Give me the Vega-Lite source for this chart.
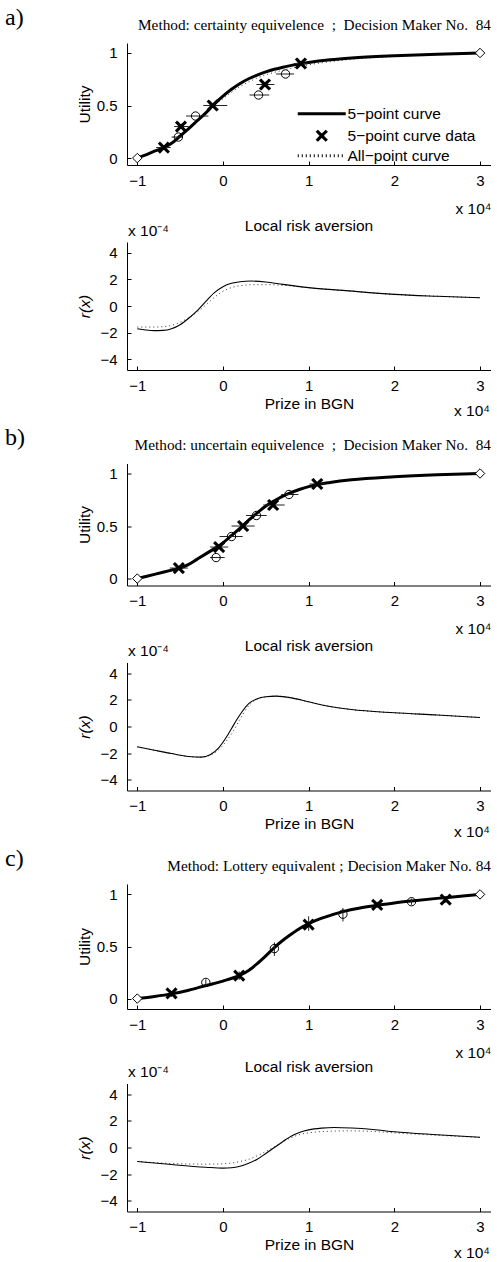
{
  "$schema": "https://vega.github.io/schema/vega-lite/v6.json",
  "padding": {"left": 5, "top": 5, "right": 0, "bottom": 0},
  "autosize": {"type": "pad"},
  "background": "white",
  "config": {
    "view": {"stroke": null},
    "font": "Liberation Sans",
    "axis": {"grid": false, "labelFont": "Liberation Sans", "labelFontSize": 15, "labelColor": "black", "titleFont": "Liberation Sans", "titleFontSize": 15.5, "titleFontWeight": "normal", "titleColor": "black", "domainColor": "black", "tickColor": "black", "tickSize": -4, "labelFlush": false, "labelOverlap": false},
    "axisX": {"labelPadding": 12},
    "axisY": {"labelPadding": 14},
    "title": {"color": "black", "fontWeight": "normal"},
    "legend": {"labelFont": "Liberation Sans", "labelFontSize": 15.5, "labelColor": "black"}
  },
  "datasets": {
    "uc": [
      {"p":"a","s":"5pt","x":-1,"u":0},{"p":"a","s":"5pt","x":-0.9,"u":0.03},{"p":"a","s":"5pt","x":-0.8,"u":0.065},{"p":"a","s":"5pt","x":-0.69,"u":0.1},{"p":"a","s":"5pt","x":-0.6,"u":0.14},{"p":"a","s":"5pt","x":-0.5,"u":0.21},{"p":"a","s":"5pt","x":-0.4,"u":0.28},{"p":"a","s":"5pt","x":-0.3,"u":0.355},{"p":"a","s":"5pt","x":-0.2,"u":0.43},{"p":"a","s":"5pt","x":-0.12,"u":0.5},{"p":"a","s":"5pt","x":0,"u":0.59},{"p":"a","s":"5pt","x":0.1,"u":0.655},{"p":"a","s":"5pt","x":0.2,"u":0.71},{"p":"a","s":"5pt","x":0.3,"u":0.755},{"p":"a","s":"5pt","x":0.4,"u":0.79},{"p":"a","s":"5pt","x":0.5,"u":0.82},{"p":"a","s":"5pt","x":0.6,"u":0.845},{"p":"a","s":"5pt","x":0.7,"u":0.865},{"p":"a","s":"5pt","x":0.8,"u":0.882},{"p":"a","s":"5pt","x":0.9,"u":0.897},{"p":"a","s":"5pt","x":1.0,"u":0.91},{"p":"a","s":"5pt","x":1.25,"u":0.935},{"p":"a","s":"5pt","x":1.5,"u":0.952},{"p":"a","s":"5pt","x":2.0,"u":0.973},{"p":"a","s":"5pt","x":2.5,"u":0.988},{"p":"a","s":"5pt","x":3.0,"u":1.0},
      {"p":"a","s":"all","x":-1,"u":0},{"p":"a","s":"all","x":-0.8,"u":0.068},{"p":"a","s":"all","x":-0.6,"u":0.145},{"p":"a","s":"all","x":-0.5,"u":0.21},{"p":"a","s":"all","x":-0.4,"u":0.28},{"p":"a","s":"all","x":-0.3,"u":0.355},{"p":"a","s":"all","x":-0.2,"u":0.43},{"p":"a","s":"all","x":-0.1,"u":0.5},{"p":"a","s":"all","x":0,"u":0.565},{"p":"a","s":"all","x":0.1,"u":0.625},{"p":"a","s":"all","x":0.2,"u":0.68},{"p":"a","s":"all","x":0.3,"u":0.725},{"p":"a","s":"all","x":0.4,"u":0.762},{"p":"a","s":"all","x":0.5,"u":0.792},{"p":"a","s":"all","x":0.6,"u":0.816},{"p":"a","s":"all","x":0.7,"u":0.836},{"p":"a","s":"all","x":0.8,"u":0.855},{"p":"a","s":"all","x":0.9,"u":0.872},{"p":"a","s":"all","x":1.0,"u":0.887},{"p":"a","s":"all","x":1.25,"u":0.917},{"p":"a","s":"all","x":1.5,"u":0.94},{"p":"a","s":"all","x":2.0,"u":0.967},{"p":"a","s":"all","x":2.5,"u":0.985},{"p":"a","s":"all","x":3.0,"u":1.0},
      {"p":"b","s":"5pt","x":-1,"u":0},{"p":"b","s":"5pt","x":-0.8,"u":0.04},{"p":"b","s":"5pt","x":-0.6,"u":0.08},{"p":"b","s":"5pt","x":-0.5,"u":0.1},{"p":"b","s":"5pt","x":-0.4,"u":0.135},{"p":"b","s":"5pt","x":-0.3,"u":0.185},{"p":"b","s":"5pt","x":-0.2,"u":0.235},{"p":"b","s":"5pt","x":-0.1,"u":0.285},{"p":"b","s":"5pt","x":0,"u":0.34},{"p":"b","s":"5pt","x":0.1,"u":0.41},{"p":"b","s":"5pt","x":0.2,"u":0.48},{"p":"b","s":"5pt","x":0.3,"u":0.555},{"p":"b","s":"5pt","x":0.4,"u":0.625},{"p":"b","s":"5pt","x":0.5,"u":0.69},{"p":"b","s":"5pt","x":0.6,"u":0.74},{"p":"b","s":"5pt","x":0.7,"u":0.785},{"p":"b","s":"5pt","x":0.8,"u":0.82},{"p":"b","s":"5pt","x":0.9,"u":0.85},{"p":"b","s":"5pt","x":1.0,"u":0.875},{"p":"b","s":"5pt","x":1.1,"u":0.895},{"p":"b","s":"5pt","x":1.25,"u":0.915},{"p":"b","s":"5pt","x":1.5,"u":0.94},{"p":"b","s":"5pt","x":2.0,"u":0.968},{"p":"b","s":"5pt","x":2.5,"u":0.987},{"p":"b","s":"5pt","x":3.0,"u":1.0},
      {"p":"b","s":"all","x":-1,"u":0},{"p":"b","s":"all","x":-0.8,"u":0.04},{"p":"b","s":"all","x":-0.6,"u":0.08},{"p":"b","s":"all","x":-0.5,"u":0.1},{"p":"b","s":"all","x":-0.4,"u":0.135},{"p":"b","s":"all","x":-0.3,"u":0.183},{"p":"b","s":"all","x":-0.2,"u":0.232},{"p":"b","s":"all","x":-0.1,"u":0.282},{"p":"b","s":"all","x":0,"u":0.335},{"p":"b","s":"all","x":0.1,"u":0.4},{"p":"b","s":"all","x":0.2,"u":0.47},{"p":"b","s":"all","x":0.3,"u":0.545},{"p":"b","s":"all","x":0.4,"u":0.615},{"p":"b","s":"all","x":0.5,"u":0.68},{"p":"b","s":"all","x":0.6,"u":0.735},{"p":"b","s":"all","x":0.7,"u":0.78},{"p":"b","s":"all","x":0.8,"u":0.818},{"p":"b","s":"all","x":0.9,"u":0.848},{"p":"b","s":"all","x":1.0,"u":0.873},{"p":"b","s":"all","x":1.1,"u":0.893},{"p":"b","s":"all","x":1.25,"u":0.914},{"p":"b","s":"all","x":1.5,"u":0.94},{"p":"b","s":"all","x":2.0,"u":0.968},{"p":"b","s":"all","x":2.5,"u":0.987},{"p":"b","s":"all","x":3.0,"u":1.0},
      {"p":"c","s":"5pt","x":-1,"u":0},{"p":"c","s":"5pt","x":-0.8,"u":0.02},{"p":"c","s":"5pt","x":-0.6,"u":0.045},{"p":"c","s":"5pt","x":-0.4,"u":0.08},{"p":"c","s":"5pt","x":-0.2,"u":0.125},{"p":"c","s":"5pt","x":0,"u":0.168},{"p":"c","s":"5pt","x":0.2,"u":0.225},{"p":"c","s":"5pt","x":0.3,"u":0.27},{"p":"c","s":"5pt","x":0.4,"u":0.335},{"p":"c","s":"5pt","x":0.5,"u":0.41},{"p":"c","s":"5pt","x":0.6,"u":0.49},{"p":"c","s":"5pt","x":0.7,"u":0.56},{"p":"c","s":"5pt","x":0.8,"u":0.62},{"p":"c","s":"5pt","x":0.9,"u":0.675},{"p":"c","s":"5pt","x":1.0,"u":0.72},{"p":"c","s":"5pt","x":1.2,"u":0.785},{"p":"c","s":"5pt","x":1.4,"u":0.835},{"p":"c","s":"5pt","x":1.6,"u":0.87},{"p":"c","s":"5pt","x":1.8,"u":0.895},{"p":"c","s":"5pt","x":2.0,"u":0.918},{"p":"c","s":"5pt","x":2.2,"u":0.937},{"p":"c","s":"5pt","x":2.5,"u":0.962},{"p":"c","s":"5pt","x":2.8,"u":0.984},{"p":"c","s":"5pt","x":3.0,"u":1.0},
      {"p":"c","s":"all","x":-1,"u":0},{"p":"c","s":"all","x":-0.8,"u":0.022},{"p":"c","s":"all","x":-0.6,"u":0.048},{"p":"c","s":"all","x":-0.4,"u":0.085},{"p":"c","s":"all","x":-0.2,"u":0.13},{"p":"c","s":"all","x":0,"u":0.175},{"p":"c","s":"all","x":0.2,"u":0.233},{"p":"c","s":"all","x":0.3,"u":0.275},{"p":"c","s":"all","x":0.4,"u":0.335},{"p":"c","s":"all","x":0.5,"u":0.405},{"p":"c","s":"all","x":0.6,"u":0.48},{"p":"c","s":"all","x":0.7,"u":0.55},{"p":"c","s":"all","x":0.8,"u":0.61},{"p":"c","s":"all","x":0.9,"u":0.665},{"p":"c","s":"all","x":1.0,"u":0.71},{"p":"c","s":"all","x":1.2,"u":0.78},{"p":"c","s":"all","x":1.4,"u":0.83},{"p":"c","s":"all","x":1.6,"u":0.867},{"p":"c","s":"all","x":1.8,"u":0.893},{"p":"c","s":"all","x":2.0,"u":0.915},{"p":"c","s":"all","x":2.2,"u":0.935},{"p":"c","s":"all","x":2.5,"u":0.96},{"p":"c","s":"all","x":2.8,"u":0.983},{"p":"c","s":"all","x":3.0,"u":1.0}
    ],
    "up": [
      {"p":"a","kind":"5−point curve data","x":-0.69,"u":0.1,"x1":-0.78,"x2":-0.61},
      {"p":"a","kind":"5−point curve data","x":-0.49,"u":0.3,"x1":-0.57,"x2":-0.4},
      {"p":"a","kind":"5−point curve data","x":-0.12,"u":0.5,"x1":-0.23,"x2":0.05},
      {"p":"a","kind":"5−point curve data","x":0.49,"u":0.7,"x1":0.39,"x2":0.6},
      {"p":"a","kind":"5−point curve data","x":0.91,"u":0.9,"x1":0.83,"x2":0.99},
      {"p":"a","kind":"all","x":-0.52,"u":0.2,"x1":-0.6,"x2":-0.47},
      {"p":"a","kind":"all","x":-0.32,"u":0.4,"x1":-0.43,"x2":-0.17},
      {"p":"a","kind":"all","x":0.415,"u":0.6,"x1":0.31,"x2":0.54},
      {"p":"a","kind":"all","x":0.73,"u":0.8,"x1":0.62,"x2":0.83},
      {"p":"a","kind":"end","x":-1,"u":0},
      {"p":"a","kind":"end","x":3,"u":1},
      {"p":"b","kind":"5−point curve data","x":-0.515,"u":0.1,"x1":-0.62,"x2":-0.41},
      {"p":"b","kind":"5−point curve data","x":-0.045,"u":0.3,"x1":-0.15,"x2":0.06},
      {"p":"b","kind":"5−point curve data","x":0.235,"u":0.5,"x1":0.1,"x2":0.37},
      {"p":"b","kind":"5−point curve data","x":0.585,"u":0.7,"x1":0.47,"x2":0.72},
      {"p":"b","kind":"5−point curve data","x":1.1,"u":0.9,"x1":1.01,"x2":1.19},
      {"p":"b","kind":"all","x":-0.08,"u":0.2,"x1":-0.15,"x2":0.02},
      {"p":"b","kind":"all","x":0.1,"u":0.4,"x1":-0.04,"x2":0.23},
      {"p":"b","kind":"all","x":0.39,"u":0.6,"x1":0.27,"x2":0.51},
      {"p":"b","kind":"all","x":0.77,"u":0.8,"x1":0.68,"x2":0.88},
      {"p":"b","kind":"end","x":-1,"u":0},
      {"p":"b","kind":"end","x":3,"u":1},
      {"p":"c","kind":"5−point curve data","x":-0.6,"u":0.05,"u1":0.016,"u2":0.067},
      {"p":"c","kind":"5−point curve data","x":0.19,"u":0.22,"u1":0.18,"u2":0.26},
      {"p":"c","kind":"5−point curve data","x":1.0,"u":0.71,"u1":0.65,"u2":0.79},
      {"p":"c","kind":"5−point curve data","x":1.8,"u":0.9,"u1":0.87,"u2":0.93},
      {"p":"c","kind":"5−point curve data","x":2.6,"u":0.95,"u1":0.92,"u2":0.97},
      {"p":"c","kind":"all","x":-0.2,"u":0.155,"u1":0.11,"u2":0.185},
      {"p":"c","kind":"all","x":0.6,"u":0.48,"u1":0.41,"u2":0.54},
      {"p":"c","kind":"all","x":1.4,"u":0.81,"u1":0.74,"u2":0.87},
      {"p":"c","kind":"all","x":2.2,"u":0.93,"u1":0.9,"u2":0.96},
      {"p":"c","kind":"end","x":-1,"u":0},
      {"p":"c","kind":"end","x":3,"u":1}
    ],
    "rc": [
      {"p":"a","s":"5pt","x":-1,"r":-1.7},{"p":"a","s":"5pt","x":-0.9,"r":-1.8},{"p":"a","s":"5pt","x":-0.8,"r":-1.85},{"p":"a","s":"5pt","x":-0.7,"r":-1.83},{"p":"a","s":"5pt","x":-0.6,"r":-1.7},{"p":"a","s":"5pt","x":-0.5,"r":-1.4},{"p":"a","s":"5pt","x":-0.4,"r":-0.92},{"p":"a","s":"5pt","x":-0.3,"r":-0.35},{"p":"a","s":"5pt","x":-0.2,"r":0.35},{"p":"a","s":"5pt","x":-0.1,"r":1.0},{"p":"a","s":"5pt","x":0,"r":1.45},{"p":"a","s":"5pt","x":0.1,"r":1.7},{"p":"a","s":"5pt","x":0.2,"r":1.82},{"p":"a","s":"5pt","x":0.33,"r":1.87},{"p":"a","s":"5pt","x":0.5,"r":1.8},{"p":"a","s":"5pt","x":0.7,"r":1.62},{"p":"a","s":"5pt","x":1.0,"r":1.38},{"p":"a","s":"5pt","x":1.4,"r":1.17},{"p":"a","s":"5pt","x":2.0,"r":0.87},{"p":"a","s":"5pt","x":2.5,"r":0.73},{"p":"a","s":"5pt","x":3.0,"r":0.62},
      {"p":"a","s":"all","x":-1,"r":-1.58},{"p":"a","s":"all","x":-0.8,"r":-1.58},{"p":"a","s":"all","x":-0.7,"r":-1.55},{"p":"a","s":"all","x":-0.6,"r":-1.45},{"p":"a","s":"all","x":-0.5,"r":-1.22},{"p":"a","s":"all","x":-0.4,"r":-0.88},{"p":"a","s":"all","x":-0.3,"r":-0.45},{"p":"a","s":"all","x":-0.2,"r":0.08},{"p":"a","s":"all","x":-0.1,"r":0.65},{"p":"a","s":"all","x":0,"r":1.1},{"p":"a","s":"all","x":0.1,"r":1.38},{"p":"a","s":"all","x":0.2,"r":1.52},{"p":"a","s":"all","x":0.35,"r":1.6},{"p":"a","s":"all","x":0.5,"r":1.6},{"p":"a","s":"all","x":0.7,"r":1.55},{"p":"a","s":"all","x":1.0,"r":1.37},{"p":"a","s":"all","x":1.4,"r":1.17},{"p":"a","s":"all","x":2.0,"r":0.87},{"p":"a","s":"all","x":2.5,"r":0.73},{"p":"a","s":"all","x":3.0,"r":0.62},
      {"p":"b","s":"5pt","x":-1,"r":-1.525},{"p":"b","s":"5pt","x":-0.8,"r":-1.78},{"p":"b","s":"5pt","x":-0.6,"r":-2.03},{"p":"b","s":"5pt","x":-0.4,"r":-2.25},{"p":"b","s":"5pt","x":-0.25,"r":-2.3},{"p":"b","s":"5pt","x":-0.15,"r":-2.12},{"p":"b","s":"5pt","x":-0.05,"r":-1.6},{"p":"b","s":"5pt","x":0.05,"r":-0.7},{"p":"b","s":"5pt","x":0.1,"r":-0.15},{"p":"b","s":"5pt","x":0.2,"r":0.9},{"p":"b","s":"5pt","x":0.3,"r":1.72},{"p":"b","s":"5pt","x":0.4,"r":2.08},{"p":"b","s":"5pt","x":0.5,"r":2.23},{"p":"b","s":"5pt","x":0.62,"r":2.28},{"p":"b","s":"5pt","x":0.8,"r":2.15},{"p":"b","s":"5pt","x":1.0,"r":1.85},{"p":"b","s":"5pt","x":1.25,"r":1.5},{"p":"b","s":"5pt","x":1.5,"r":1.27},{"p":"b","s":"5pt","x":2.0,"r":1.03},{"p":"b","s":"5pt","x":2.5,"r":0.86},{"p":"b","s":"5pt","x":3.0,"r":0.67},
      {"p":"b","s":"all","x":-1,"r":-1.525},{"p":"b","s":"all","x":-0.8,"r":-1.78},{"p":"b","s":"all","x":-0.6,"r":-2.03},{"p":"b","s":"all","x":-0.4,"r":-2.25},{"p":"b","s":"all","x":-0.25,"r":-2.3},{"p":"b","s":"all","x":-0.15,"r":-2.15},{"p":"b","s":"all","x":-0.05,"r":-1.75},{"p":"b","s":"all","x":0.05,"r":-1.0},{"p":"b","s":"all","x":0.1,"r":-0.55},{"p":"b","s":"all","x":0.2,"r":0.55},{"p":"b","s":"all","x":0.3,"r":1.55},{"p":"b","s":"all","x":0.4,"r":2.05},{"p":"b","s":"all","x":0.5,"r":2.22},{"p":"b","s":"all","x":0.62,"r":2.28},{"p":"b","s":"all","x":0.8,"r":2.15},{"p":"b","s":"all","x":1.0,"r":1.85},{"p":"b","s":"all","x":1.25,"r":1.5},{"p":"b","s":"all","x":1.5,"r":1.27},{"p":"b","s":"all","x":2.0,"r":1.03},{"p":"b","s":"all","x":2.5,"r":0.86},{"p":"b","s":"all","x":3.0,"r":0.67},
      {"p":"c","s":"5pt","x":-1,"r":-1.05},{"p":"c","s":"5pt","x":-0.6,"r":-1.28},{"p":"c","s":"5pt","x":-0.2,"r":-1.48},{"p":"c","s":"5pt","x":0,"r":-1.55},{"p":"c","s":"5pt","x":0.1,"r":-1.52},{"p":"c","s":"5pt","x":0.2,"r":-1.4},{"p":"c","s":"5pt","x":0.3,"r":-1.18},{"p":"c","s":"5pt","x":0.4,"r":-0.88},{"p":"c","s":"5pt","x":0.5,"r":-0.45},{"p":"c","s":"5pt","x":0.6,"r":0.0},{"p":"c","s":"5pt","x":0.7,"r":0.45},{"p":"c","s":"5pt","x":0.8,"r":0.87},{"p":"c","s":"5pt","x":0.9,"r":1.15},{"p":"c","s":"5pt","x":1.0,"r":1.32},{"p":"c","s":"5pt","x":1.15,"r":1.45},{"p":"c","s":"5pt","x":1.3,"r":1.5},{"p":"c","s":"5pt","x":1.5,"r":1.46},{"p":"c","s":"5pt","x":1.75,"r":1.35},{"p":"c","s":"5pt","x":2.0,"r":1.18},{"p":"c","s":"5pt","x":2.5,"r":0.96},{"p":"c","s":"5pt","x":3.0,"r":0.77},
      {"p":"c","s":"all","x":-1,"r":-1.05},{"p":"c","s":"all","x":-0.6,"r":-1.2},{"p":"c","s":"all","x":-0.2,"r":-1.25},{"p":"c","s":"all","x":0,"r":-1.22},{"p":"c","s":"all","x":0.2,"r":-1.05},{"p":"c","s":"all","x":0.3,"r":-0.88},{"p":"c","s":"all","x":0.4,"r":-0.62},{"p":"c","s":"all","x":0.5,"r":-0.3},{"p":"c","s":"all","x":0.6,"r":0.05},{"p":"c","s":"all","x":0.7,"r":0.42},{"p":"c","s":"all","x":0.8,"r":0.75},{"p":"c","s":"all","x":0.9,"r":0.98},{"p":"c","s":"all","x":1.0,"r":1.1},{"p":"c","s":"all","x":1.25,"r":1.22},{"p":"c","s":"all","x":1.5,"r":1.25},{"p":"c","s":"all","x":1.75,"r":1.2},{"p":"c","s":"all","x":2.0,"r":1.1},{"p":"c","s":"all","x":2.5,"r":0.92},{"p":"c","s":"all","x":3.0,"r":0.75}
    ],
    "notes": [{"t": "x 10⁻⁴", "w": "exp"}, {"t": "x 10⁴", "w": "prize"}]
  },
  "spacing": 5.5,
  "bounds": "full",
  "vconcat": [
    {
      "title": {"text": "a)", "anchor": "start", "frame": "group", "font": "Liberation Serif", "fontSize": 24, "dx": -122, "offset": -12},
      "spacing": 77,
      "bounds": "flush",
      "vconcat": [
        {
          "width": 364, "height": 122,
          "title": {"text": "Method: certainty equivelence\u00a0 ;\u00a0 Decision Maker No.\u00a0 84", "anchor": "end", "frame": "group", "font": "Liberation Serif", "fontSize": 15.3, "offset": 10},
          "encoding": {
            "x": {"field": "x", "type": "quantitative", "scale": {"domain": [-1.12, 3.128], "nice": false, "zero": false}, "axis": {"values": [-1, 0, 1, 2, 3], "format": "~g", "title": "x 10⁴", "titleAnchor": "end", "titlePadding": 13}},
            "y": {"field": "u", "type": "quantitative", "scale": {"domain": [-0.066, 1.095], "nice": false, "zero": false}, "axis": {"values": [0, 0.5, 1], "format": "~g", "title": "Utility", "titlePadding": 4}}
          },
          "layer": [
            {"data": {"name": "uc"}, "transform": [{"filter": "datum.p === 'a' && datum.s === 'all'"}], "mark": {"type": "line", "color": "#333", "strokeWidth": 1, "strokeDash": [1, 3], "interpolate": "monotone"}, "encoding": {}},
            {"data": {"name": "uc"}, "transform": [{"filter": "datum.p === 'a' && datum.s === '5pt'"}], "mark": {"type": "line", "color": "black", "strokeWidth": 3, "interpolate": "monotone"}, "encoding": {}},
            {"data": {"name": "up"}, "transform": [{"filter": "datum.p === 'a' && datum.kind !== 'end'"}], "mark": {"type": "rule", "color": "#222", "strokeWidth": 1}, "encoding": {"x": {"field": "x1", "type": "quantitative"}, "x2": {"field": "x2"}}},
            {"data": {"name": "up"}, "transform": [{"filter": "datum.p === 'a' && datum.kind === 'all'"}], "mark": {"type": "point", "shape": "circle", "filled": false, "color": "black", "strokeWidth": 1, "size": 70, "opacity": 1}, "encoding": {}},
            {"data": {"name": "up"}, "transform": [{"filter": "datum.p === 'a' && datum.kind === 'end'"}], "mark": {"type": "point", "shape": "diamond", "filled": true, "fill": "white", "stroke": "black", "strokeWidth": 1, "size": 90, "opacity": 1}, "encoding": {}},
            {"data": {"name": "up"}, "transform": [{"filter": "datum.p === 'a' && datum.kind === '5−point curve data'"}], "mark": {"type": "point", "filled": false, "color": "black", "size": 100, "opacity": 1},
             "encoding": {
               "shape": {"field": "kind", "type": "nominal", "scale": {"domain": ["5−point curve", "5−point curve data", "All−point curve"], "range": ["M-4.8,0H4.8", "M-1,-1L1,1M-1,1L1,-1", "M-4.8,0H4.8"]},
                 "legend": {"title": null, "orient": "none", "legendX": 187, "legendY": 63, "padding": 0, "labelOffset": 18, "rowPadding": 1, "symbolSize": 100, "symbolStrokeColor": "black", "symbolFillColor": "transparent"}},
               "strokeWidth": {"field": "kind", "type": "nominal", "scale": {"domain": ["5−point curve", "5−point curve data", "All−point curve"], "range": [3.2, 3, 1]},
                 "legend": {"title": null, "orient": "none", "legendX": 187, "legendY": 63, "padding": 0, "labelOffset": 18, "rowPadding": 1, "symbolSize": 100, "symbolStrokeColor": "black", "symbolFillColor": "transparent"}},
               "strokeDash": {"field": "kind", "type": "nominal", "scale": {"domain": ["5−point curve", "5−point curve data", "All−point curve"], "range": [[1, 0], [1, 0], [1, 3]]},
                 "legend": {"title": null, "orient": "none", "legendX": 187, "legendY": 63, "padding": 0, "labelOffset": 18, "rowPadding": 1, "symbolSize": 100, "symbolStrokeColor": "black", "symbolFillColor": "transparent"}}}}
          ]
        },
        {
          "width": 364, "height": 128,
          "title": {"text": "Local risk aversion", "anchor": "middle", "frame": "group", "font": "Liberation Sans", "fontSize": 15.5, "offset": -10.5},
          "layer": [
            {"data": {"name": "rc"}, "transform": [{"filter": "datum.p === 'a' && datum.s === 'all'"}], "mark": {"type": "line", "color": "#333", "strokeWidth": 1, "strokeDash": [1, 3], "interpolate": "monotone"},
             "encoding": {
              "x": {"field": "x", "type": "quantitative", "scale": {"domain": [-1.12, 3.128], "nice": false, "zero": false}, "axis": {"values": [-1, 0, 1, 2, 3], "format": "~g", "title": "Prize in BGN", "titlePadding": 3}},
              "y": {"field": "r", "type": "quantitative", "scale": {"domain": [-4.8, 4.8], "nice": false, "zero": false}, "axis": {"values": [-4, -2, 0, 2, 4], "format": "~g", "title": "r(x)", "titleFontStyle": "italic", "titlePadding": 7}}}},
            {"data": {"name": "rc"}, "transform": [{"filter": "datum.p === 'a' && datum.s === '5pt'"}], "mark": {"type": "line", "color": "black", "strokeWidth": 1.1, "interpolate": "monotone"},
             "encoding": {
              "x": {"field": "x", "type": "quantitative", "scale": {"domain": [-1.12, 3.128], "nice": false, "zero": false}, "axis": {"values": [-1, 0, 1, 2, 3], "format": "~g", "title": "Prize in BGN", "titlePadding": 3}},
              "y": {"field": "r", "type": "quantitative", "scale": {"domain": [-4.8, 4.8], "nice": false, "zero": false}, "axis": {"values": [-4, -2, 0, 2, 4], "format": "~g", "title": "r(x)", "titleFontStyle": "italic", "titlePadding": 7}}}},
            {"data": {"name": "notes"}, "transform": [{"filter": "datum.w === 'exp'"}], "mark": {"type": "text", "align": "left", "baseline": "alphabetic", "dx": 1, "dy": -6.3, "font": "Liberation Sans", "fontSize": 15.5, "fill": "black"},
             "encoding": {
              "x": {"datum": -1.12, "type": "quantitative", "scale": {"domain": [-1.12, 3.128], "nice": false, "zero": false}, "axis": {"values": [-1, 0, 1, 2, 3], "format": "~g", "title": "Prize in BGN", "titlePadding": 3}},
              "y": {"datum": 4.8, "type": "quantitative", "scale": {"domain": [-4.8, 4.8], "nice": false, "zero": false}, "axis": {"values": [-4, -2, 0, 2, 4], "format": "~g", "title": "r(x)", "titleFontStyle": "italic", "titlePadding": 7}},
              "text": {"field": "t", "type": "nominal"}}},
            {"data": {"name": "notes"}, "transform": [{"filter": "datum.w === 'prize'"}], "mark": {"type": "text", "align": "right", "baseline": "top", "dx": -1, "dy": 34, "font": "Liberation Sans", "fontSize": 15.5, "fill": "black"},
             "encoding": {
              "x": {"datum": 3.128, "type": "quantitative", "scale": {"domain": [-1.12, 3.128], "nice": false, "zero": false}, "axis": {"values": [-1, 0, 1, 2, 3], "format": "~g", "title": "Prize in BGN", "titlePadding": 3}},
              "y": {"datum": -4.8, "type": "quantitative", "scale": {"domain": [-4.8, 4.8], "nice": false, "zero": false}, "axis": {"values": [-4, -2, 0, 2, 4], "format": "~g", "title": "r(x)", "titleFontStyle": "italic", "titlePadding": 7}},
              "text": {"field": "t", "type": "nominal"}}}
          ]
        }
      ]
    },
    {
      "title": {"text": "b)", "anchor": "start", "frame": "group", "font": "Liberation Serif", "fontSize": 24, "dx": -122, "offset": -12},
      "spacing": 77,
      "bounds": "flush",
      "vconcat": [
        {
          "width": 364, "height": 122,
          "title": {"text": "Method: uncertain equivelence\u00a0 ;\u00a0 Decision Maker No.\u00a0 84", "anchor": "end", "frame": "group", "font": "Liberation Serif", "fontSize": 15.3, "offset": 10},
          "encoding": {
            "x": {"field": "x", "type": "quantitative", "scale": {"domain": [-1.12, 3.128], "nice": false, "zero": false}, "axis": {"values": [-1, 0, 1, 2, 3], "format": "~g", "title": "x 10⁴", "titleAnchor": "end", "titlePadding": 13}},
            "y": {"field": "u", "type": "quantitative", "scale": {"domain": [-0.066, 1.095], "nice": false, "zero": false}, "axis": {"values": [0, 0.5, 1], "format": "~g", "title": "Utility", "titlePadding": 4}}
          },
          "layer": [
            {"data": {"name": "uc"}, "transform": [{"filter": "datum.p === 'b' && datum.s === 'all'"}], "mark": {"type": "line", "color": "#333", "strokeWidth": 1, "strokeDash": [1, 3], "interpolate": "monotone"}, "encoding": {}},
            {"data": {"name": "uc"}, "transform": [{"filter": "datum.p === 'b' && datum.s === '5pt'"}], "mark": {"type": "line", "color": "black", "strokeWidth": 3, "interpolate": "monotone"}, "encoding": {}},
            {"data": {"name": "up"}, "transform": [{"filter": "datum.p === 'b' && datum.kind !== 'end'"}], "mark": {"type": "rule", "color": "#222", "strokeWidth": 1}, "encoding": {"x": {"field": "x1", "type": "quantitative"}, "x2": {"field": "x2"}}},
            {"data": {"name": "up"}, "transform": [{"filter": "datum.p === 'b' && datum.kind === 'all'"}], "mark": {"type": "point", "shape": "circle", "filled": false, "color": "black", "strokeWidth": 1, "size": 70, "opacity": 1}, "encoding": {}},
            {"data": {"name": "up"}, "transform": [{"filter": "datum.p === 'b' && datum.kind === 'end'"}], "mark": {"type": "point", "shape": "diamond", "filled": true, "fill": "white", "stroke": "black", "strokeWidth": 1, "size": 90, "opacity": 1}, "encoding": {}},
            {"data": {"name": "up"}, "transform": [{"filter": "datum.p === 'b' && datum.kind === '5−point curve data'"}], "mark": {"type": "point", "filled": false, "color": "black", "size": 100, "opacity": 1},
             "encoding": {
               "shape": {"field": "kind", "type": "nominal", "scale": {"domain": ["5−point curve", "5−point curve data", "All−point curve"], "range": ["M-4.8,0H4.8", "M-1,-1L1,1M-1,1L1,-1", "M-4.8,0H4.8"]},
                 "legend": {"title": null, "orient": "none", "legendX": 187, "legendY": 63, "padding": 0, "labelOffset": 18, "rowPadding": 1, "symbolSize": 100, "symbolStrokeColor": "black", "symbolFillColor": "transparent"}},
               "strokeWidth": {"field": "kind", "type": "nominal", "scale": {"domain": ["5−point curve", "5−point curve data", "All−point curve"], "range": [3.2, 3, 1]},
                 "legend": {"title": null, "orient": "none", "legendX": 187, "legendY": 63, "padding": 0, "labelOffset": 18, "rowPadding": 1, "symbolSize": 100, "symbolStrokeColor": "black", "symbolFillColor": "transparent"}},
               "strokeDash": {"field": "kind", "type": "nominal", "scale": {"domain": ["5−point curve", "5−point curve data", "All−point curve"], "range": [[1, 0], [1, 0], [1, 3]]},
                 "legend": {"title": null, "orient": "none", "legendX": 187, "legendY": 63, "padding": 0, "labelOffset": 18, "rowPadding": 1, "symbolSize": 100, "symbolStrokeColor": "black", "symbolFillColor": "transparent"}}}}
          ]
        },
        {
          "width": 364, "height": 128,
          "title": {"text": "Local risk aversion", "anchor": "middle", "frame": "group", "font": "Liberation Sans", "fontSize": 15.5, "offset": -10.5},
          "layer": [
            {"data": {"name": "rc"}, "transform": [{"filter": "datum.p === 'b' && datum.s === 'all'"}], "mark": {"type": "line", "color": "#333", "strokeWidth": 1, "strokeDash": [1, 3], "interpolate": "monotone"},
             "encoding": {
              "x": {"field": "x", "type": "quantitative", "scale": {"domain": [-1.12, 3.128], "nice": false, "zero": false}, "axis": {"values": [-1, 0, 1, 2, 3], "format": "~g", "title": "Prize in BGN", "titlePadding": 3}},
              "y": {"field": "r", "type": "quantitative", "scale": {"domain": [-4.8, 4.8], "nice": false, "zero": false}, "axis": {"values": [-4, -2, 0, 2, 4], "format": "~g", "title": "r(x)", "titleFontStyle": "italic", "titlePadding": 7}}}},
            {"data": {"name": "rc"}, "transform": [{"filter": "datum.p === 'b' && datum.s === '5pt'"}], "mark": {"type": "line", "color": "black", "strokeWidth": 1.1, "interpolate": "monotone"},
             "encoding": {
              "x": {"field": "x", "type": "quantitative", "scale": {"domain": [-1.12, 3.128], "nice": false, "zero": false}, "axis": {"values": [-1, 0, 1, 2, 3], "format": "~g", "title": "Prize in BGN", "titlePadding": 3}},
              "y": {"field": "r", "type": "quantitative", "scale": {"domain": [-4.8, 4.8], "nice": false, "zero": false}, "axis": {"values": [-4, -2, 0, 2, 4], "format": "~g", "title": "r(x)", "titleFontStyle": "italic", "titlePadding": 7}}}},
            {"data": {"name": "notes"}, "transform": [{"filter": "datum.w === 'exp'"}], "mark": {"type": "text", "align": "left", "baseline": "alphabetic", "dx": 1, "dy": -6.3, "font": "Liberation Sans", "fontSize": 15.5, "fill": "black"},
             "encoding": {
              "x": {"datum": -1.12, "type": "quantitative", "scale": {"domain": [-1.12, 3.128], "nice": false, "zero": false}, "axis": {"values": [-1, 0, 1, 2, 3], "format": "~g", "title": "Prize in BGN", "titlePadding": 3}},
              "y": {"datum": 4.8, "type": "quantitative", "scale": {"domain": [-4.8, 4.8], "nice": false, "zero": false}, "axis": {"values": [-4, -2, 0, 2, 4], "format": "~g", "title": "r(x)", "titleFontStyle": "italic", "titlePadding": 7}},
              "text": {"field": "t", "type": "nominal"}}},
            {"data": {"name": "notes"}, "transform": [{"filter": "datum.w === 'prize'"}], "mark": {"type": "text", "align": "right", "baseline": "top", "dx": -1, "dy": 34, "font": "Liberation Sans", "fontSize": 15.5, "fill": "black"},
             "encoding": {
              "x": {"datum": 3.128, "type": "quantitative", "scale": {"domain": [-1.12, 3.128], "nice": false, "zero": false}, "axis": {"values": [-1, 0, 1, 2, 3], "format": "~g", "title": "Prize in BGN", "titlePadding": 3}},
              "y": {"datum": -4.8, "type": "quantitative", "scale": {"domain": [-4.8, 4.8], "nice": false, "zero": false}, "axis": {"values": [-4, -2, 0, 2, 4], "format": "~g", "title": "r(x)", "titleFontStyle": "italic", "titlePadding": 7}},
              "text": {"field": "t", "type": "nominal"}}}
          ]
        }
      ]
    },
    {
      "title": {"text": "c)", "anchor": "start", "frame": "group", "font": "Liberation Serif", "fontSize": 24, "dx": -122, "offset": -12},
      "spacing": 74.5,
      "bounds": "flush",
      "vconcat": [
        {
          "width": 364, "height": 125,
          "title": {"text": "Method: Lottery equivalent ; Decision Maker No. 84", "anchor": "end", "frame": "group", "font": "Liberation Serif", "fontSize": 15.3, "offset": 10},
          "encoding": {
            "x": {"field": "x", "type": "quantitative", "scale": {"domain": [-1.12, 3.128], "nice": false, "zero": false}, "axis": {"values": [-1, 0, 1, 2, 3], "format": "~g", "title": "x 10⁴", "titleAnchor": "end", "titlePadding": 13}},
            "y": {"field": "u", "type": "quantitative", "scale": {"domain": [-0.1, 1.1], "nice": false, "zero": false}, "axis": {"values": [0, 0.5, 1], "format": "~g", "title": "Utility", "titlePadding": 4}}
          },
          "layer": [
            {"data": {"name": "uc"}, "transform": [{"filter": "datum.p === 'c' && datum.s === 'all'"}], "mark": {"type": "line", "color": "#333", "strokeWidth": 1, "strokeDash": [1, 3], "interpolate": "monotone"}, "encoding": {}},
            {"data": {"name": "uc"}, "transform": [{"filter": "datum.p === 'c' && datum.s === '5pt'"}], "mark": {"type": "line", "color": "black", "strokeWidth": 3, "interpolate": "monotone"}, "encoding": {}},
            {"data": {"name": "up"}, "transform": [{"filter": "datum.p === 'c' && datum.kind !== 'end'"}], "mark": {"type": "rule", "color": "#222", "strokeWidth": 1}, "encoding": {"y": {"field": "u1", "type": "quantitative"}, "y2": {"field": "u2"}}},
            {"data": {"name": "up"}, "transform": [{"filter": "datum.p === 'c' && datum.kind === 'all'"}], "mark": {"type": "point", "shape": "circle", "filled": false, "color": "black", "strokeWidth": 1, "size": 70, "opacity": 1}, "encoding": {}},
            {"data": {"name": "up"}, "transform": [{"filter": "datum.p === 'c' && datum.kind === 'end'"}], "mark": {"type": "point", "shape": "diamond", "filled": true, "fill": "white", "stroke": "black", "strokeWidth": 1, "size": 90, "opacity": 1}, "encoding": {}},
            {"data": {"name": "up"}, "transform": [{"filter": "datum.p === 'c' && datum.kind === '5−point curve data'"}], "mark": {"type": "point", "filled": false, "color": "black", "size": 100, "opacity": 1},
             "encoding": {
               "shape": {"field": "kind", "type": "nominal", "scale": {"domain": ["5−point curve", "5−point curve data", "All−point curve"], "range": ["M-4.8,0H4.8", "M-1,-1L1,1M-1,1L1,-1", "M-4.8,0H4.8"]},
                 "legend": {"title": null, "orient": "none", "legendX": 187, "legendY": 64, "padding": 0, "labelOffset": 18, "rowPadding": 1, "symbolSize": 100, "symbolStrokeColor": "black", "symbolFillColor": "transparent"}},
               "strokeWidth": {"field": "kind", "type": "nominal", "scale": {"domain": ["5−point curve", "5−point curve data", "All−point curve"], "range": [3.2, 3, 1]},
                 "legend": {"title": null, "orient": "none", "legendX": 187, "legendY": 64, "padding": 0, "labelOffset": 18, "rowPadding": 1, "symbolSize": 100, "symbolStrokeColor": "black", "symbolFillColor": "transparent"}},
               "strokeDash": {"field": "kind", "type": "nominal", "scale": {"domain": ["5−point curve", "5−point curve data", "All−point curve"], "range": [[1, 0], [1, 0], [1, 3]]},
                 "legend": {"title": null, "orient": "none", "legendX": 187, "legendY": 64, "padding": 0, "labelOffset": 18, "rowPadding": 1, "symbolSize": 100, "symbolStrokeColor": "black", "symbolFillColor": "transparent"}}}}
          ]
        },
        {
          "width": 364, "height": 128,
          "title": {"text": "Local risk aversion", "anchor": "middle", "frame": "group", "font": "Liberation Sans", "fontSize": 15.5, "offset": -10.5},
          "layer": [
            {"data": {"name": "rc"}, "transform": [{"filter": "datum.p === 'c' && datum.s === 'all'"}], "mark": {"type": "line", "color": "#333", "strokeWidth": 1, "strokeDash": [1, 3], "interpolate": "monotone"},
             "encoding": {
              "x": {"field": "x", "type": "quantitative", "scale": {"domain": [-1.12, 3.128], "nice": false, "zero": false}, "axis": {"values": [-1, 0, 1, 2, 3], "format": "~g", "title": "Prize in BGN", "titlePadding": 3}},
              "y": {"field": "r", "type": "quantitative", "scale": {"domain": [-4.8, 4.8], "nice": false, "zero": false}, "axis": {"values": [-4, -2, 0, 2, 4], "format": "~g", "title": "r(x)", "titleFontStyle": "italic", "titlePadding": 7}}}},
            {"data": {"name": "rc"}, "transform": [{"filter": "datum.p === 'c' && datum.s === '5pt'"}], "mark": {"type": "line", "color": "black", "strokeWidth": 1.1, "interpolate": "monotone"},
             "encoding": {
              "x": {"field": "x", "type": "quantitative", "scale": {"domain": [-1.12, 3.128], "nice": false, "zero": false}, "axis": {"values": [-1, 0, 1, 2, 3], "format": "~g", "title": "Prize in BGN", "titlePadding": 3}},
              "y": {"field": "r", "type": "quantitative", "scale": {"domain": [-4.8, 4.8], "nice": false, "zero": false}, "axis": {"values": [-4, -2, 0, 2, 4], "format": "~g", "title": "r(x)", "titleFontStyle": "italic", "titlePadding": 7}}}},
            {"data": {"name": "notes"}, "transform": [{"filter": "datum.w === 'exp'"}], "mark": {"type": "text", "align": "left", "baseline": "alphabetic", "dx": 1, "dy": -6.3, "font": "Liberation Sans", "fontSize": 15.5, "fill": "black"},
             "encoding": {
              "x": {"datum": -1.12, "type": "quantitative", "scale": {"domain": [-1.12, 3.128], "nice": false, "zero": false}, "axis": {"values": [-1, 0, 1, 2, 3], "format": "~g", "title": "Prize in BGN", "titlePadding": 3}},
              "y": {"datum": 4.8, "type": "quantitative", "scale": {"domain": [-4.8, 4.8], "nice": false, "zero": false}, "axis": {"values": [-4, -2, 0, 2, 4], "format": "~g", "title": "r(x)", "titleFontStyle": "italic", "titlePadding": 7}},
              "text": {"field": "t", "type": "nominal"}}},
            {"data": {"name": "notes"}, "transform": [{"filter": "datum.w === 'prize'"}], "mark": {"type": "text", "align": "right", "baseline": "top", "dx": -1, "dy": 34, "font": "Liberation Sans", "fontSize": 15.5, "fill": "black"},
             "encoding": {
              "x": {"datum": 3.128, "type": "quantitative", "scale": {"domain": [-1.12, 3.128], "nice": false, "zero": false}, "axis": {"values": [-1, 0, 1, 2, 3], "format": "~g", "title": "Prize in BGN", "titlePadding": 3}},
              "y": {"datum": -4.8, "type": "quantitative", "scale": {"domain": [-4.8, 4.8], "nice": false, "zero": false}, "axis": {"values": [-4, -2, 0, 2, 4], "format": "~g", "title": "r(x)", "titleFontStyle": "italic", "titlePadding": 7}},
              "text": {"field": "t", "type": "nominal"}}}
          ]
        }
      ]
    }
  ]
}
